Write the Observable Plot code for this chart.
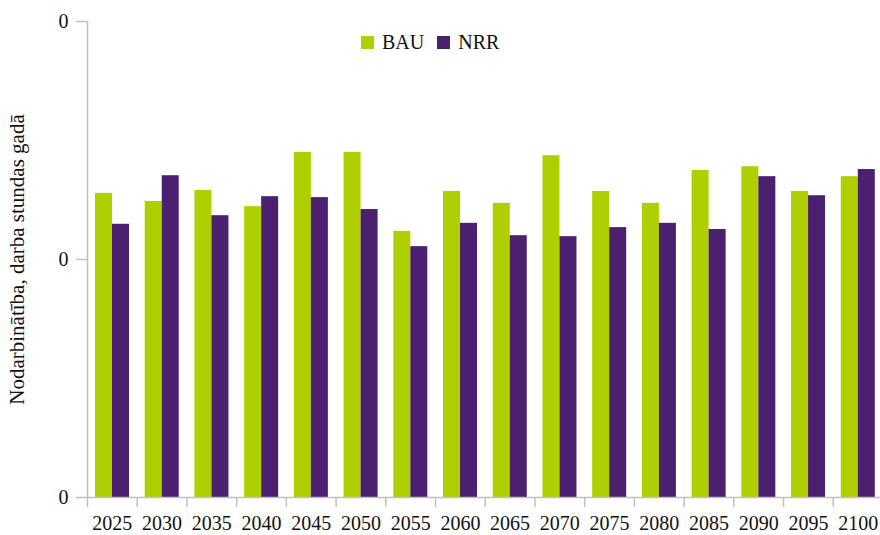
<!DOCTYPE html>
<html>
<head>
<meta charset="utf-8">
<script src="https://cdn.jsdelivr.net/npm/d3@7"></script>
<script src="https://cdn.jsdelivr.net/npm/@observablehq/plot@0.6"></script>
<style>
  body { margin: 0; background: #fff; }
  #wrap { position: relative; width: 880px; height: 535px; font-family: 'Liberation Serif', 'Times New Roman', 'DejaVu Serif', serif; }
  #wrap svg, #wrap svg text { font-family: 'Liberation Serif', 'Times New Roman', 'DejaVu Serif', serif !important; }
  #legend { position: absolute; left: 361px; top: 31px; font-size: 20px; color: #111; display: flex; align-items: center; }
  #legend .sw { display: inline-block; width: 13px; height: 13px; margin-right: 8px; }
  #legend .item { display: flex; align-items: center; margin-right: 13px; }
</style>
</head>
<body>
<div id="wrap"><div id="legend"></div></div>
<script>
const years = ["2025","2030","2035","2040","2045","2050","2055","2060","2065","2070","2075","2080","2085","2090","2095","2100"];
const bauValues = [0.639,0.622,0.645,0.611,0.725,0.725,0.559,0.643,0.618,0.718,0.643,0.618,0.687,0.695,0.643,0.674];
const nrrValues = [0.574,0.676,0.592,0.632,0.630,0.605,0.527,0.576,0.550,0.548,0.567,0.576,0.563,0.674,0.634,0.689];
const seriesNames = ["BAU","NRR"];
const seriesColors = ["#b0cf00","#4b2070"];
const yTicks = [0, 0.5, 1];
const yTickLabels = ["0","0","0"];
const yLabel = "Nodarbinātība, darba stundas gadā";

const bauData = years.map((y, i) => ({year: y, value: bauValues[i]}));
const nrrData = years.map((y, i) => ({year: y, value: nrrValues[i]}));

const band = (882.5 - 87) / years.length;

const chart = Plot.plot({
  width: 880,
  height: 535,
  marginLeft: 87,
  marginRight: -2.5,
  marginTop: 21,
  marginBottom: 38,
  style: {fontFamily: "'Liberation Serif', 'Times New Roman', serif", fontSize: "20px", color: "#111", background: "transparent"},
  x: {domain: years, padding: 0, round: false},
  y: {domain: [0, 1]},
  marks: [
    Plot.barY(bauData, {x: "year", y: "value", fill: seriesColors[0], insetLeft: 8, insetRight: band - 25}),
    Plot.barY(nrrData, {x: "year", y: "value", fill: seriesColors[1], insetLeft: 25, insetRight: band - 42}),
    Plot.ruleY([0], {stroke: "#c0c0c0", strokeWidth: 1.5}),
    Plot.ruleX([years[0]], {stroke: "#c0c0c0", strokeWidth: 1.5, dx: -band / 2}),
    Plot.axisX({tickSize: 10, text: null, stroke: "#c0c0c0", strokeWidth: 1.5, dx: -band / 2, label: null}),
    Plot.axisX({tickSize: 0, tickPadding: 18, label: null, fontSize: 20}),
    Plot.axisY({ticks: yTicks, tickFormat: (d, i) => yTickLabels[i], tickSize: 11, tickPadding: 8, stroke: "#c0c0c0", strokeWidth: 1.5,
      label: null, fontSize: 20}),
    Plot.axisY({ticks: [], label: yLabel, labelAnchor: "center", labelArrow: "none", labelOffset: 78, fontSize: 21, tickSize: 0})
  ]
});
const wrap = document.getElementById("wrap");
wrap.insertBefore(chart, wrap.firstChild);

const legend = document.getElementById("legend");
seriesNames.forEach((name, i) => {
  const item = document.createElement("span");
  item.className = "item";
  const sw = document.createElement("span");
  sw.className = "sw";
  sw.style.background = seriesColors[i];
  item.appendChild(sw);
  item.appendChild(document.createTextNode(name));
  legend.appendChild(item);
});
</script>
</body>
</html>
